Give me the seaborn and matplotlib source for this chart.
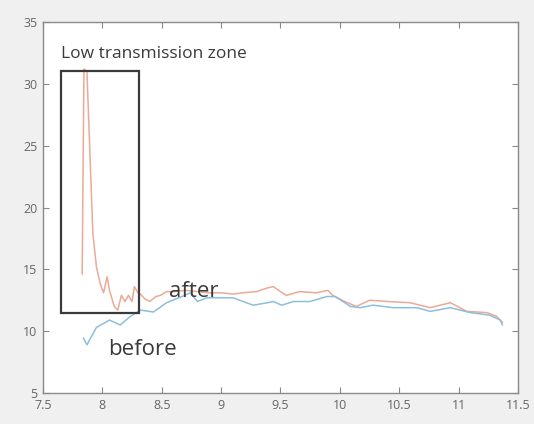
import matplotlib
matplotlib.use("Agg")
import matplotlib.pyplot as plt
import seaborn as sns
import pandas as pd
from matplotlib.patches import Rectangle

# ---- data ----
after_x = [7.830, 7.845, 7.870, 7.920, 7.950, 7.980, 8.010, 8.040, 8.060, 8.100,
           8.130, 8.160, 8.190, 8.220, 8.250, 8.270, 8.300, 8.320, 8.360, 8.400,
           8.450, 8.490, 8.540, 8.600, 8.700, 8.800, 8.900, 9.000, 9.100, 9.180,
           9.300, 9.390, 9.440, 9.500, 9.550, 9.660, 9.800, 9.900, 9.940, 10.040,
           10.140, 10.250, 10.400, 10.590, 10.760, 10.930, 11.070, 11.240, 11.320, 11.370]
after_y = [14.6, 31.2, 31.0, 17.9, 15.2, 13.9, 13.1, 14.4, 13.3, 12.0,
           11.7, 12.9, 12.4, 12.9, 12.4, 13.6, 13.1, 13.0, 12.6, 12.4,
           12.8, 12.9, 13.2, 13.2, 13.3, 13.2, 13.1, 13.1, 13.0, 13.1,
           13.2, 13.5, 13.6, 13.2, 12.9, 13.2, 13.1, 13.3, 12.9, 12.4,
           12.0, 12.5, 12.4, 12.3, 11.9, 12.3, 11.6, 11.5, 11.2, 10.7]

before_x = [7.840, 7.870, 7.950, 8.060, 8.150, 8.230, 8.320, 8.430, 8.540, 8.670,
            8.740, 8.800, 8.880, 9.100, 9.270, 9.390, 9.440, 9.510, 9.610, 9.750,
            9.890, 9.960, 10.090, 10.170, 10.280, 10.450, 10.650, 10.760, 10.930, 11.100,
            11.260, 11.350, 11.370]
before_y = [9.45, 8.9, 10.3, 10.9, 10.5, 11.15, 11.7, 11.55, 12.3, 12.8,
            13.1, 12.4, 12.7, 12.7, 12.1, 12.3, 12.4, 12.1, 12.4, 12.4,
            12.8, 12.8, 12.0, 11.9, 12.1, 11.9, 11.9, 11.6, 11.9, 11.5,
            11.3, 10.9, 10.5]

x_ticks = [7.5, 8, 8.5, 9, 9.5, 10, 10.5, 11, 11.5]
x_tick_labels = ["7.5", "8", "8.5", "9", "9.5", "10", "10.5", "11", "11.5"]
y_ticks = [5, 10, 15, 20, 25, 30, 35]
y_tick_labels = ["5", "10", "15", "20", "25", "30", "35"]

zone_x = [7.65, 8.31]
zone_y = [11.5, 31.0]

df = pd.concat([
    pd.DataFrame({"x": after_x, "y": after_y, "series": "after"}),
    pd.DataFrame({"x": before_x, "y": before_y, "series": "before"}),
], ignore_index=True)

sns.set_theme(style="white")
plt.rcParams["font.family"] = ["Open Sans", "DejaVu Sans"]

fig = plt.figure(figsize=(5.34, 4.24), dpi=100, facecolor="#f0f0f0")
ax = fig.add_axes([0.0805, 0.0731, 0.8895, 0.875])
ax.set_facecolor("white")

sns.lineplot(data=df, x="x", y="y", hue="series", sort=False, estimator=None,
             palette={"after": "#eaaa96", "before": "#8cbede"}, linewidth=1.1,
             legend=False, ax=ax)

ax.add_patch(Rectangle((zone_x[0], zone_y[0]), zone_x[1] - zone_x[0], zone_y[1] - zone_y[0],
                       fill=False, edgecolor="#3a3a3a", linewidth=1.6, zorder=5))

ax.text(7.65, 32.1, "Low transmission zone", fontsize=12.5, color="#3a3a3a",
        ha="left", va="baseline")
ax.text(8.565, 12.77, "after", fontsize=16, color="#3a3a3a", ha="left", va="baseline")
ax.text(8.05, 8.08, "before", fontsize=16, color="#3a3a3a", ha="left", va="baseline")

ax.set_xlim(7.5, 11.5)
ax.set_ylim(5, 35)
ax.set_xticks(x_ticks)
ax.set_xticklabels(x_tick_labels)
ax.set_yticks(y_ticks)
ax.set_yticklabels(y_tick_labels)
ax.set_xlabel("")
ax.set_ylabel("")
ax.tick_params(direction="in", length=4, width=0.8, colors="#888888",
               labelcolor="#666666", labelsize=9, top=True, right=True,
               bottom=True, left=True, pad=4)
for s in ax.spines.values():
    s.set_visible(True)
    s.set_color("#8a8a8a")
    s.set_linewidth(1.0)

fig.savefig("out.png", dpi=100, facecolor=fig.get_facecolor())
